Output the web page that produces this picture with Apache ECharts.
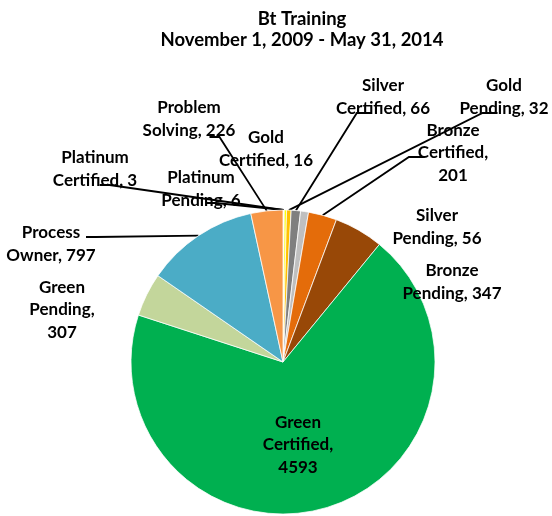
<!DOCTYPE html>
<html>
<head>
<meta charset="utf-8">
<script src="https://cdn.jsdelivr.net/npm/echarts@6/dist/echarts.min.js"></script>
<style>
  html, body { margin: 0; padding: 0; background: #fff; }
  #pie { width: 552px; height: 516px; }
</style>
</head>
<body>
<div id="pie"></div>
<script>
const categories = ['Platinum Certified', 'Platinum Pending', 'Gold Certified', 'Gold Pending',
  'Silver Certified', 'Silver Pending', 'Bronze Certified', 'Bronze Pending',
  'Green Certified', 'Green Pending', 'Process Owner', 'Problem Solving'];
const counts = [3, 6, 16, 32, 66, 56, 201, 347, 4593, 307, 797, 226];
const sliceColors = ['#e7e6e6', '#f2f2f2', '#ffff00', '#ffc000', '#7f7f7f', '#bfbfbf',
  '#e46c0a', '#984807', '#00b050', '#c3d69b', '#4bacc6', '#f79646'];

// labels whose value sits on its own line
const valueOnOwnLine = ['Bronze Certified', 'Green Certified', 'Green Pending'];
// labels drawn without a leader line
const noLeader = ['Silver Pending', 'Bronze Pending', 'Green Certified', 'Green Pending'];
// where each label block is centred
const labelSpots = {
  'Platinum Certified': [95, 169],
  'Platinum Pending': [201, 189],
  'Gold Certified': [266, 149],
  'Gold Pending': [504, 97],
  'Silver Certified': [383, 97],
  'Silver Pending': [437, 227],
  'Bronze Certified': [453, 153],
  'Bronze Pending': [452, 282],
  'Green Certified': [298, 445],
  'Green Pending': [62, 310],
  'Process Owner': [51, 244],
  'Problem Solving': [189, 119]
};
// side the leader leaves from, y offset from label centre, optional x offset from centre
const leaderSide = {
  'Platinum Certified': ['right', 16],
  'Platinum Pending': ['right', 14],
  'Gold Certified': ['bottom', 0],
  'Gold Pending': ['left', 16],
  'Silver Certified': ['left', 16],
  'Bronze Certified': ['left', 4],
  'Process Owner': ['right', -7, 35],
  'Problem Solving': ['right', 18]
};

(function () {
  const chart = echarts.init(document.getElementById('pie'));

  const data = categories.map(function (name, i) {
    const item = { name: name, value: counts[i], itemStyle: { color: sliceColors[i] } };
    if (noLeader.indexOf(name) > -1) item.labelLine = { show: false };
    return item;
  });

  const options = {
    animation: false,
    title: {
      text: 'Bt Training\nNovember 1, 2009 - May 31, 2014',
      left: 297,
      top: 4,
      textAlign: 'center',
      textStyle: {
        fontFamily: 'Lato',
        fontWeight: 'bold',
        fontSize: 18.5,
        lineHeight: 21,
        color: '#000'
      }
    },
    series: [
      {
        name: 'Bt Training',
        type: 'pie',
        center: [283, 362],
        radius: 152,
        startAngle: 90,
        clockwise: true,
        avoidLabelOverlap: false,
        emphasis: { disabled: true },
        itemStyle: { borderColor: '#fff', borderWidth: 0.75 },
        label: {
          show: true,
          position: 'outside',
          fontFamily: 'Lato',
          fontWeight: 'bold',
          fontSize: 17,
          lineHeight: 22.5,
          color: '#000'
        },
        labelLine: {
          show: true,
          length: 10,
          length2: 12,
          lineStyle: { color: '#000', width: 1.8, opacity: 1 }
        },
        labelLayout: function (params) {
          const name = categories[params.dataIndex];
          const spot = labelSpots[name];
          const out = { x: spot[0], y: spot[1], align: 'center', verticalAlign: 'middle' };
          const side = leaderSide[name];
          if (side && params.labelLinePoints) {
            const anchor = params.labelLinePoints[0];
            const w = params.rect.width;
            const h = params.rect.height;
            let attach, stub;
            if (side[0] === 'right') {
              const dx = side[2] != null ? side[2] : w / 2 + 4;
              attach = [spot[0] + dx, spot[1] + side[1]];
              stub = [attach[0] + 10, attach[1]];
            } else if (side[0] === 'left') {
              attach = [spot[0] - w / 2 - 2, spot[1] + side[1]];
              stub = [attach[0] - 15, attach[1]];
            } else {
              attach = [anchor[0], spot[1] + h / 2];
              stub = [anchor[0], attach[1] + 6];
            }
            out.labelLinePoints = [anchor, stub, attach];
          }
          return out;
        },
        data: data
      }
    ]
  };

  options.series[0].label.formatter = function (p) {
    const sep = valueOnOwnLine.indexOf(p.name) > -1 ? ',\n' : ', ';
    return p.name.split(' ').join('\n') + sep + p.value;
  };

  chart.setOption(options);
})();
</script>
</body>
</html>
